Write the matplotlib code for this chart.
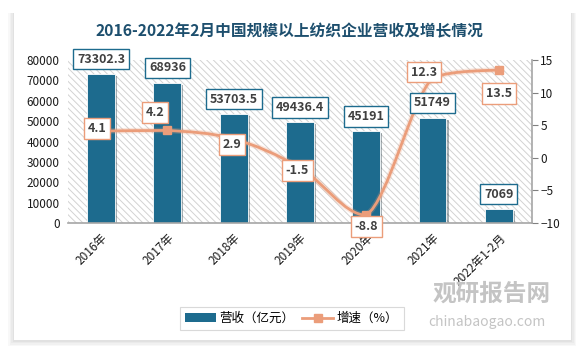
import matplotlib.pyplot as plt
import matplotlib.patheffects as pe
from matplotlib.patches import Rectangle
from matplotlib.path import Path
from matplotlib.patches import PathPatch
from matplotlib.lines import Line2D

plt.rcParams['font.family'] = ['Noto Sans CJK SC', 'DejaVu Sans']
plt.rcParams['hatch.linewidth'] = 0.7

# 数据
categories = ['2016年', '2017年', '2018年', '2019年', '2020年', '2021年', '2022年1-2月']
revenue = [73302.3, 68936, 53703.5, 49436.4, 45191, 51749, 7069]
growth = [4.1, 4.2, 2.9, -1.5, -8.8, 12.3, 13.5]
revenue_labels = ['73302.3', '68936', '53703.5', '49436.4', '45191', '51749', '7069']

bar_color = '#1d6b8e'
line_color = '#eb9d7a'
text_color = '#404040'

fig = plt.figure(figsize=(5.83, 3.52), dpi=100)
fig.patch.set_facecolor('white')

# 卡片阴影和白色背景
for i, a in enumerate([0.05, 0.05, 0.06, 0.08]):
    d = (4 - i) * 0.004
    fig.patches.append(Rectangle((0.024 - d * 0.6, 0.033 - d), 0.955 + d * 1.2, 0.93 + d * 1.0,
                                 transform=fig.transFigure, facecolor='#808080', alpha=a,
                                 edgecolor='none', zorder=0))
fig.patches.append(Rectangle((0.024, 0.033), 0.955, 0.93, transform=fig.transFigure,
                             facecolor='white', edgecolor='none', zorder=1))

ax = fig.add_axes([0.1166, 0.3665, 0.7959, 0.463])
ax.set_zorder(2)
ax.patch.set_visible(False)
# 绘图区斜线底纹（边框超出绘图区被裁掉）
ax.add_patch(Rectangle((-0.1, -0.1), 1.2, 1.2, transform=ax.transAxes, facecolor='white',
                       edgecolor='#d2d2d2', linewidth=1, hatch='\\\\\\\\\\', zorder=0.5))

x = list(range(len(categories)))
bars = ax.bar(x, revenue, width=0.42, color=bar_color, edgecolor='white', linewidth=0.6,
              zorder=2)
for b in bars:
    b.set_path_effects([pe.SimplePatchShadow(offset=(1.5, -1.5), alpha=0.35), pe.Normal()])

ax.set_xlim(-0.5, len(categories) - 0.5)
ax.set_ylim(0, 80000)
ax.set_yticks(range(0, 80001, 10000))
ax.tick_params(axis='y', length=0, labelsize=8.5, labelcolor='#1a1a1a', pad=6)
ax.set_xticks(x)
ax.set_xticklabels(categories, rotation=45, ha='right', rotation_mode='anchor',
                   fontsize=8.5, color='#1a1a1a')
ax.tick_params(axis='x', length=0, pad=6)
for s in ['top', 'left', 'right']:
    ax.spines[s].set_visible(False)
ax.spines['bottom'].set_color('#a6a6a6')
ax.spines['bottom'].set_linewidth(1.2)

# 右轴：增速
ax2 = ax.twinx()
ax2.set_ylim(-10, 15)
ax2.set_yticks(range(-10, 16, 5))
ax2.tick_params(axis='y', length=4, color='#808080', labelsize=8.5, labelcolor='#1a1a1a', pad=2)
for s in ['top', 'left', 'bottom']:
    ax2.spines[s].set_visible(False)
ax2.spines['right'].set_color('#a6a6a6')
ax2.spines['right'].set_linewidth(1.2)

# 平滑曲线 (Catmull-Rom -> Bezier，控制点限制在相邻点之间)
pts = list(zip(x, growth))
verts = [pts[0]]
codes = [Path.MOVETO]
n = len(pts)
for i in range(n - 1):
    p0 = pts[i - 1] if i > 0 else pts[i]
    p1 = pts[i]
    p2 = pts[i + 1]
    p3 = pts[i + 2] if i + 2 < n else pts[i + 1]
    lo, hi = min(p1[1], p2[1]), max(p1[1], p2[1])
    c1y = min(max(p1[1] + (p2[1] - p0[1]) / 6, lo), hi)
    c2y = min(max(p2[1] - (p3[1] - p1[1]) / 6, lo), hi)
    c1 = (p1[0] + (p2[0] - p0[0]) / 6, c1y)
    c2 = (p2[0] - (p3[0] - p1[0]) / 6, c2y)
    verts += [c1, c2, p2]
    codes += [Path.CURVE4] * 3
curve = PathPatch(Path(verts, codes), facecolor='none', edgecolor=line_color, linewidth=2,
                  zorder=3)
curve.set_path_effects([pe.SimpleLineShadow(offset=(0, 0), alpha=0.25, linewidth=4,
                                            shadow_color=line_color), pe.Normal()])
ax2.add_patch(curve)
ax2.plot(x, growth, linestyle='none', marker='s', markersize=6, color=line_color, zorder=4)

# 柱子数据标签（画在右轴上，使其在曲线之上）
for xi, v, lab in zip(x, revenue, revenue_labels):
    ax2.annotate(lab, (xi, v), xycoords=ax.transData, xytext=(0, 10.5),
                 textcoords='offset points', ha='center', va='center', fontsize=9,
                 fontweight='bold', color=text_color,
                 bbox=dict(boxstyle='square,pad=0.3', facecolor='white', edgecolor=bar_color,
                           linewidth=1.0), zorder=5)

growth_offsets = [(-3, 2), (-9, 13), (-1, -4), (-2, -2), (0, -8), (-6, 4), (0, -17)]
for xi, v, off in zip(x, growth, growth_offsets):
    ax2.annotate(f'{v:g}', (xi, v), xytext=off, textcoords='offset points',
                 ha='center', va='center', fontsize=9, fontweight='bold', color=text_color,
                 bbox=dict(boxstyle='square,pad=0.3', facecolor='white', edgecolor=line_color,
                           linewidth=1.0), zorder=6)

# 标题
fig.text(0.497, 0.91, '2016-2022年2月中国规模以上纺织企业营收及增长情况', ha='center', va='center',
         fontsize=11.3, fontweight='bold', color='#1d4f6e')

# 水印
fig.text(0.742, 0.165, '观研报告网', fontsize=17, fontweight='bold', color='#c4c4c4',
         ha='left', va='center', zorder=3)
fig.text(0.735, 0.085, 'chinabaogao.com', fontsize=10, color='#c4c4c4', ha='left',
         va='center', zorder=3)

# 图例
handles = [Rectangle((0, 0), 1, 1, facecolor=bar_color),
           Line2D([0], [0], color=line_color, linewidth=2, marker='s', markersize=6)]
leg = fig.legend(handles, ['营收（亿元）', '增速（%）'], loc='center', bbox_to_anchor=(0.5, 0.095),
                 ncol=2, frameon=True, fontsize=9, handlelength=2.5, columnspacing=0.6,
                 handletextpad=0.3, borderpad=0.4, fancybox=False)
leg.get_frame().set_edgecolor('#d0d0d0')
leg.get_frame().set_linewidth(0.8)
leg.set_zorder(5)

fig.savefig('out.png', dpi=100)
